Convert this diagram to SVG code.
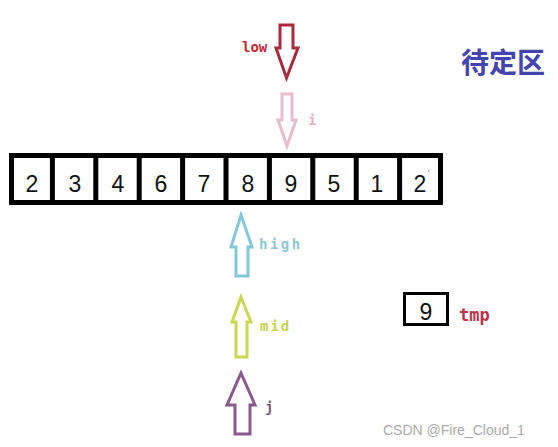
<svg xmlns="http://www.w3.org/2000/svg" width="558" height="447" viewBox="0 0 558 447">
<style>
.num{font-family:"Liberation Sans","DejaVu Sans",sans-serif;font-size:23px;fill:#111;text-anchor:middle}
.lbl{font-family:"DejaVu Sans Mono","Liberation Mono",monospace;font-weight:bold;font-size:14px}
.arr{fill:#fff;stroke-width:3;stroke-linejoin:miter}
</style>
<rect width="558" height="447" fill="#fff"/>
<g id="array">
<rect x="11.5" y="155.5" width="429" height="47" fill="#fff" stroke="#000" stroke-width="5"/>
<path d="M52.4 153V205M95.8 153V205M139.2 153V205M182.6 153V205M226 153V205M269.4 153V205M312.8 153V205M356.2 153V205M399.6 153V205" stroke="#000" stroke-width="5"/>
<text class="num" x="32" y="192">2</text>
<text class="num" x="75" y="192">3</text>
<text class="num" x="118" y="192">4</text>
<text class="num" x="161" y="192">6</text>
<text class="num" x="204" y="192">7</text>
<text class="num" x="248" y="192">8</text>
<text class="num" x="291" y="192">9</text>
<text class="num" x="334" y="192">5</text>
<text class="num" x="377" y="192">1</text>
<text class="num" x="420" y="192">2</text>
<text x="428" y="175" style="font-family:'Liberation Sans',sans-serif;font-size:8px;fill:#111">'</text>
</g>
<g id="connectors">
<g id="low">
<polygon class="arr" stroke="#a82a3c" points="280,25 293,25 293,48 298,48 286.5,78 276,48 280,48"/>
<text class="lbl" x="242" y="52" fill="#c0283c">low</text>
</g>
<g id="i">
<polygon class="arr" stroke="#e8bccd" points="282,94 292,94 292,120 296,120 287,146 278,120 282,120"/>
<text class="lbl" x="308" y="125" fill="#e0b0c4">i</text>
</g>
<g id="high">
<polygon class="arr" stroke="#84c8d8" points="241,215 252,247 248,247 248,276 236,276 236,247 231,247"/>
<text class="lbl" x="259" y="249" fill="#8ec8d4" letter-spacing="2.5">high</text>
</g>
<g id="mid">
<polygon class="arr" stroke="#c8d850" points="241,297 251,322 247,322 247,357 236,357 236,322 232,322"/>
<text class="lbl" x="260" y="331" fill="#c4d454" letter-spacing="2">mid</text>
</g>
<g id="j">
<polygon class="arr" stroke="#8a5a8c" points="241,373 255,405 250,405 250,434 235,434 235,405 227,405"/>
<text class="lbl" x="265" y="412" fill="#7a5a7c">j</text>
</g>
</g>
<g id="tmp">
<rect x="404.5" y="293.5" width="43" height="31" fill="#fff" stroke="#000" stroke-width="3"/>
<text class="num" x="426" y="320">9</text>
<text class="lbl" x="459" y="321" fill="#c03048" style="font-size:17px">tmp</text>
</g>
<g id="zone">
<text x="461" y="73" style="font-family:'Noto Sans CJK SC',sans-serif;font-weight:bold;font-size:28px;fill:#4444b0">待定区</text>
</g>
<text x="383" y="435" style="font-family:'Liberation Sans',sans-serif;font-size:14px;fill:#aaa">CSDN @Fire_Cloud_1</text>
</svg>
